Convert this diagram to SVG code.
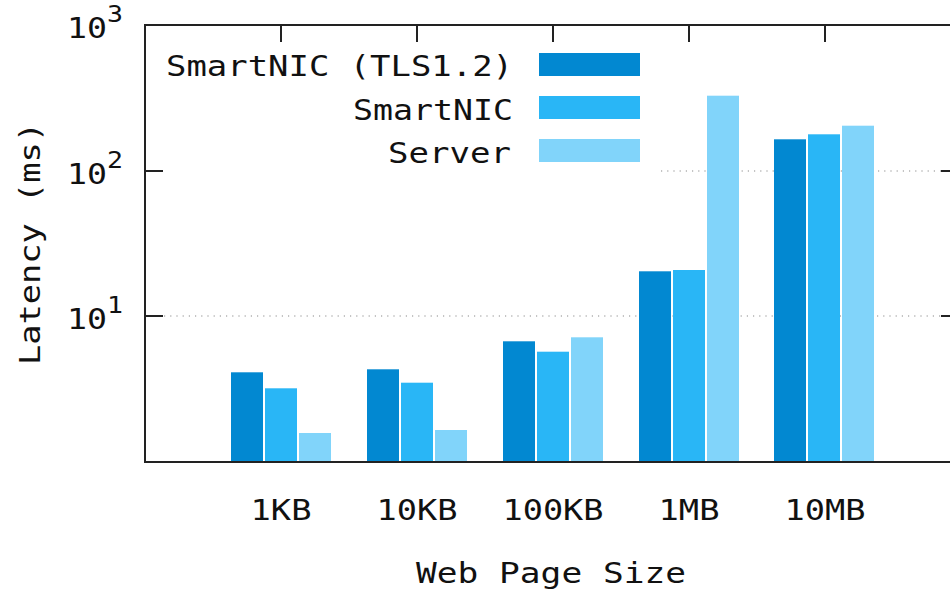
<svg xmlns="http://www.w3.org/2000/svg" width="950" height="592" viewBox="0 0 950 592">
  <style>
    .lbl { font-family: "DejaVu Sans Mono", "Liberation Mono", monospace; font-size: 29px; fill: #111; }
    .sup { font-family: "DejaVu Sans Mono", "Liberation Mono", monospace; font-size: 23px; fill: #111; }
    .axis { stroke: #222; stroke-width: 2; fill: none; }
    .grid { stroke: #8a8a8a; stroke-width: 1.2; stroke-dasharray: 1.2 5; fill: none; }
    .tls { fill: #0288d1; }
    .nic { fill: #29b6f6; }
    .srv { fill: #81d4fa; }
  </style>

  <rect x="0" y="0" width="950" height="592" fill="#ffffff"/>

  <!-- horizontal grid lines at 10^1 and 10^2 (key box hides the left part of the upper one) -->
  <g id="grid">
    <line class="grid" x1="661" y1="171" x2="941" y2="171"/>
    <line class="grid" x1="164" y1="316" x2="941" y2="316"/>
  </g>

  <!-- bar groups: SmartNIC (TLS1.2), SmartNIC, Server -->
  <g id="bars-1KB">
    <rect class="tls" x="231" y="372.3" width="32" height="89.7"/>
    <rect class="nic" x="265" y="388.3" width="32" height="73.7"/>
    <rect class="srv" x="299" y="433" width="32" height="29"/>
  </g>
  <g id="bars-10KB">
    <rect class="tls" x="367" y="369.3" width="32" height="92.7"/>
    <rect class="nic" x="401" y="382.7" width="32" height="79.3"/>
    <rect class="srv" x="435" y="430" width="32" height="32"/>
  </g>
  <g id="bars-100KB">
    <rect class="tls" x="503" y="341.3" width="32" height="120.7"/>
    <rect class="nic" x="537" y="351.7" width="32" height="110.3"/>
    <rect class="srv" x="571" y="337.3" width="32" height="124.7"/>
  </g>
  <g id="bars-1MB">
    <rect class="tls" x="639" y="271.3" width="32" height="190.7"/>
    <rect class="nic" x="673" y="270" width="32" height="192"/>
    <rect class="srv" x="707" y="95.7" width="32" height="366.3"/>
  </g>
  <g id="bars-10MB">
    <rect class="tls" x="774" y="139.3" width="32" height="322.7"/>
    <rect class="nic" x="808" y="134.3" width="32" height="327.7"/>
    <rect class="srv" x="842" y="125.7" width="32" height="336.3"/>
  </g>

  <!-- plot border and tick marks -->
  <g id="frame">
    <rect class="axis" x="145" y="25" width="814" height="437"/>
    <path class="axis" d="M145 171H163M145 316H163M959 171H941M959 316H941"/>
    <path class="axis" d="M281 25V42M417 25V42M553 25V42M689 25V42M825 25V42"/>
  </g>

  <!-- key -->
  <g id="key">
    <text class="lbl" x="166" y="76" textLength="347" lengthAdjust="spacingAndGlyphs">SmartNIC (TLS1.2)</text>
    <rect class="tls" x="539" y="53" width="101" height="23"/>
    <text class="lbl" x="353" y="119.5" textLength="160" lengthAdjust="spacingAndGlyphs">SmartNIC</text>
    <rect class="nic" x="539" y="96" width="101" height="23"/>
    <text class="lbl" x="388" y="162.5" textLength="123" lengthAdjust="spacingAndGlyphs">Server</text>
    <rect class="srv" x="539" y="139" width="101" height="23"/>
  </g>

  <!-- y tick labels -->
  <g id="ytics">
    <text class="lbl" x="67" y="38" textLength="40" lengthAdjust="spacingAndGlyphs">10</text>
    <text class="sup" x="107" y="22" textLength="16" lengthAdjust="spacingAndGlyphs">3</text>
    <text class="lbl" x="67" y="184" textLength="40" lengthAdjust="spacingAndGlyphs">10</text>
    <text class="sup" x="107" y="168" textLength="16" lengthAdjust="spacingAndGlyphs">2</text>
    <text class="lbl" x="67" y="329" textLength="40" lengthAdjust="spacingAndGlyphs">10</text>
    <text class="sup" x="107" y="313" textLength="16" lengthAdjust="spacingAndGlyphs">1</text>
  </g>

  <!-- x tick labels -->
  <g id="xtics">
    <text class="lbl" x="250.5" y="520" textLength="61" lengthAdjust="spacingAndGlyphs">1KB</text>
    <text class="lbl" x="376.5" y="520" textLength="81" lengthAdjust="spacingAndGlyphs">10KB</text>
    <text class="lbl" x="502.5" y="520" textLength="101" lengthAdjust="spacingAndGlyphs">100KB</text>
    <text class="lbl" x="658.5" y="520" textLength="61" lengthAdjust="spacingAndGlyphs">1MB</text>
    <text class="lbl" x="784.5" y="520" textLength="81" lengthAdjust="spacingAndGlyphs">10MB</text>
  </g>

  <!-- axis titles -->
  <g id="titles">
    <text class="lbl" x="416" y="583" textLength="270" lengthAdjust="spacingAndGlyphs">Web Page Size</text>
    <text class="lbl" transform="translate(40,243.5) rotate(-90)" x="-121.5" y="0" textLength="243" lengthAdjust="spacingAndGlyphs">Latency (ms)</text>
  </g>
</svg>
